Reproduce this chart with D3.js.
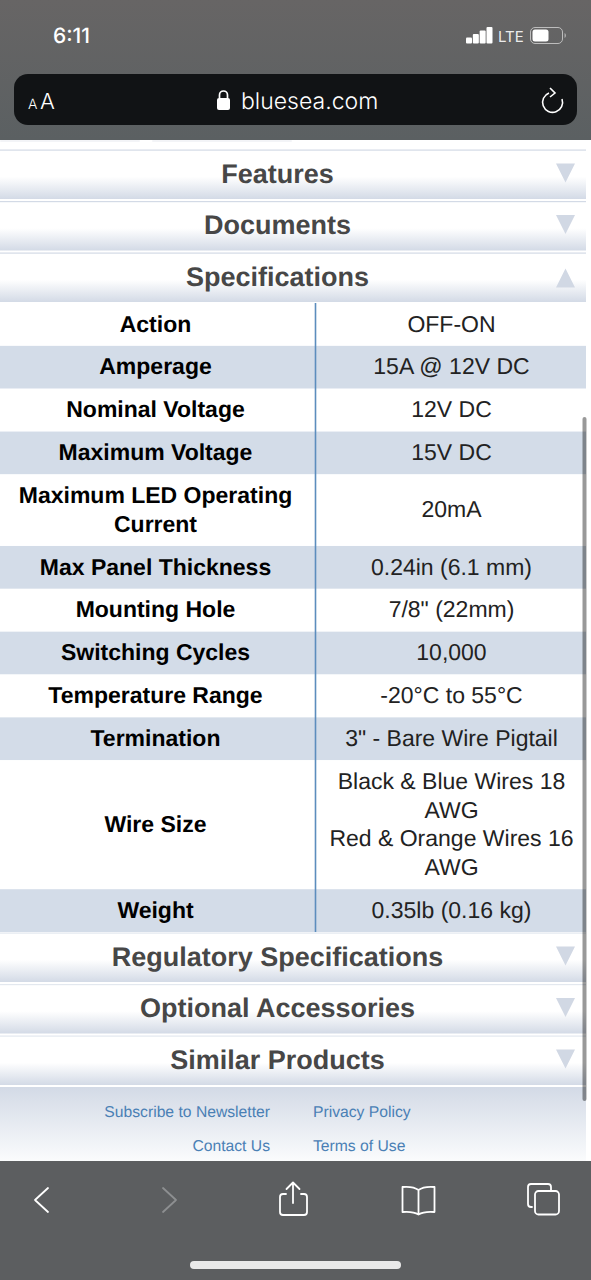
<!DOCTYPE html>
<html>
<head>
<meta charset="utf-8">
<script src="https://cdn.jsdelivr.net/npm/d3@7"></script>
<style>
  html, body { margin: 0; padding: 0; background: #fff; overflow: hidden; }
  svg { display: block; }
  text { font-family: "Liberation Sans", Arial, sans-serif; text-rendering: geometricPrecision; }
  .ui { font-family: Inter, "Noto Sans", sans-serif; fill: #fff; }
</style>
</head>
<body>
<svg id="page" width="591" height="1280"></svg>
<script>
// Table content
const specNames = ['Action', 'Amperage', 'Nominal Voltage', 'Maximum Voltage',
  ['Maximum LED Operating', 'Current'], 'Max Panel Thickness', 'Mounting Hole',
  'Switching Cycles', 'Temperature Range', 'Termination', 'Wire Size', 'Weight'];
const specValues = ['OFF-ON', '15A @ 12V DC', '12V DC', '15V DC', '20mA', '0.24in (6.1 mm)',
  '7/8" (22mm)', '10,000', '-20°C to 55°C', '3" - Bare Wire Pigtail',
  ['Black & Blue Wires 18', 'AWG', 'Red & Orange Wires 16', 'AWG'], '0.35lb (0.16 kg)'];
const topHeads = ['Features', 'Documents', 'Specifications'];
const bottomHeads = ['Regulatory Specifications', 'Optional Accessories', 'Similar Products'];
const footLeft = ['Subscribe to Newsletter', 'Contact Us'];
const footRight = ['Privacy Policy', 'Terms of Use'];

const svg = d3.select('#page');
const defs = svg.append('defs');

function gradient(id, stops) {
  const g = defs.append('linearGradient').attr('id', id)
    .attr('x1', 0).attr('y1', 0).attr('x2', 0).attr('y2', 1);
  stops.forEach(s => g.append('stop').attr('offset', s[0]).attr('stop-color', s[1]));
}
gradient('headFill', [[0, '#ffffff'], [0.55, '#ffffff'], [1, '#d3dae6']]);
gradient('footFill', [[0, '#d3dae6'], [1, '#fbfcfd']]);
gradient('topBar', [[0, '#676565'], [1, '#5b6062']]);

// Browser chrome on top
svg.append('rect').attr('width', 591).attr('height', 140).attr('fill', 'url(#topBar)');
svg.append('text').attr('class', 'ui').attr('x', 53).attr('y', 43)
  .attr('font-size', 21).attr('font-weight', 500).text('6:11');

const bars = [0, 1, 2, 3];
const barX = d3.scaleLinear().domain([0, 3]).range([466, 486.5]);
svg.selectAll('.sig').data(bars).join('rect').attr('class', 'sig')
  .attr('x', d => barX(d)).attr('y', d => 37.5 - d * 3.5)
  .attr('width', 6).attr('height', d => 6 + d * 3.5).attr('rx', 1).attr('fill', '#fff');
svg.append('text').attr('class', 'ui').attr('x', 498).attr('y', 42)
  .attr('font-size', 15).attr('fill-opacity', 0.9).text('LTE');
svg.append('rect').attr('x', 530.5).attr('y', 27.5).attr('width', 32).attr('height', 16).attr('rx', 4.5)
  .attr('fill', 'none').attr('stroke', '#bdbdbd').attr('stroke-width', 1);
svg.append('rect').attr('x', 532.5).attr('y', 29.5).attr('width', 16).attr('height', 12).attr('rx', 2.5).attr('fill', '#fff');
svg.append('path').attr('d', 'M564.5 33v5c1-.6 1.5-1.4 1.5-2.5s-.5-1.9-1.5-2.5z').attr('fill', '#aaa');

svg.append('rect').attr('x', 14).attr('y', 74).attr('width', 563).attr('height', 51).attr('rx', 14).attr('fill', '#111315');
svg.append('text').attr('class', 'ui').attr('x', 28).attr('y', 109).attr('font-size', 14).attr('font-weight', 300).text('A');
svg.append('text').attr('class', 'ui').attr('x', 40).attr('y', 109).attr('font-size', 22).attr('font-weight', 300).text('A');
svg.append('rect').attr('x', 217).attr('y', 98).attr('width', 13).attr('height', 12).attr('rx', 2).attr('fill', '#fff');
svg.append('path').attr('d', 'M219.5 98v-3a4 4 0 0 1 8 0v3').attr('fill', 'none').attr('stroke', '#fff').attr('stroke-width', 1.7);
svg.append('text').attr('class', 'ui').attr('x', 241).attr('y', 109).attr('font-size', 23).attr('font-weight', 300).text('bluesea.com');
svg.append('path').attr('d', 'M549 93a10 10 0 1 0 13 6M550 88l5 5-5 4')
  .attr('fill', 'none').attr('stroke', '#fff').attr('stroke-width', 1.6);

// Page background and the tab remains just under the top bar
svg.append('rect').attr('y', 140).attr('width', 591).attr('height', 1021).attr('fill', '#fff');
svg.selectAll('.tab').data([[0, 140], [152, 140]]).join('rect').attr('class', 'tab')
  .attr('x', d => d[0]).attr('y', 140).attr('width', d => d[1]).attr('height', 2).attr('rx', 1).attr('fill', '#f3f4f7');

// Accordion headings
function heads(names, top, open) {
  const y = d3.scalePoint().domain(names).range([top, top + 103]);
  const g = svg.selectAll(null).data(names).join('g').attr('transform', d => `translate(0,${y(d)})`);
  g.append('rect').attr('width', 586).attr('height', 49.5).attr('fill', 'url(#headFill)');
  g.append('rect').attr('width', 586).attr('height', 1.2).attr('fill', top < 500 ? '#d3dae6' : '#e3e8ef');
  g.append('text').attr('x', 277.5).attr('y', 33).attr('text-anchor', 'middle')
    .attr('font-size', 27).attr('font-weight', 700).attr('fill', '#474747').text(d => d);
  g.append('path').attr('fill', '#d1d8e4')
    .attr('d', d => d === open ? 'M565.500 16 L575 35 L556 35 Z' : 'M556 14 L575 14 L565.500 33 Z');
}
heads(topHeads, 149.5, 'Specifications');

// Spec table, row height follows the number of wrapped lines
const lineCount = d => {
  const a = specNames[d], b = specValues[d];
  return Math.max(Array.isArray(a) ? a.length : 1, Array.isArray(b) ? b.length : 1);
};
const rowIdx = d3.range(specNames.length);
const rowH = d3.scaleLinear().domain([1, 4]).range([42.85, 129]);
const tops = [303];
rowIdx.forEach(i => tops.push(tops[i] + rowH(lineCount(i))));

const row = svg.selectAll('.row').data(rowIdx).join('g').attr('class', 'row')
  .attr('transform', i => `translate(0,${tops[i]})`);
row.append('rect').attr('width', 586).attr('height', i => rowH(lineCount(i)))
  .attr('fill', i => i % 2 ? '#d3dce8' : '#ffffff');

function cell(sel, x, src, weight, color) {
  sel.each(function(i) {
    const lines = [].concat(src[i]);
    const mid = rowH(lineCount(i)) / 2;
    d3.select(this).selectAll(null).data(lines).join('text')
      .attr('x', x).attr('text-anchor', 'middle')
      .attr('y', (d, k) => mid + 7.2 + (k - (lines.length - 1) / 2) * 28.7)
      .attr('font-size', 23).attr('font-weight', weight).attr('fill', color).text(d => d);
  });
}
row.call(cell, 155.5, specNames, 700, '#000');
row.call(cell, 451.5, specValues, 400, '#222');

svg.append('line').attr('x1', 315.5).attr('x2', 315.5).attr('y1', 303).attr('y2', tops[tops.length - 1])
  .attr('stroke', '#5c8dbd').attr('stroke-width', 1.6);

heads(bottomHeads, 932.5, null);

// Footer links
svg.append('rect').attr('y', 1087).attr('width', 586).attr('height', 75).attr('fill', 'url(#footFill)');
const footY = d3.scalePoint().domain([0, 1]).range([1117, 1151]);
svg.selectAll('.fl').data(footLeft).join('text').attr('class', 'fl')
  .attr('x', 270).attr('y', (d, i) => footY(i)).attr('text-anchor', 'end')
  .attr('font-size', 15.7).attr('fill', '#4a80b5').text(d => d);
svg.selectAll('.fr').data(footRight).join('text').attr('class', 'fr')
  .attr('x', 313).attr('y', (d, i) => footY(i))
  .attr('font-size', 15.7).attr('fill', '#4a80b5').text(d => d);

// Scroll bar
svg.append('rect').attr('x', 582.5).attr('y', 417).attr('width', 4).attr('height', 684).attr('rx', 2)
  .attr('fill', '#000').attr('fill-opacity', 0.4);

// Bottom toolbar
svg.append('rect').attr('y', 1161).attr('width', 591).attr('height', 119).attr('fill', '#5c5e60');
const icon = (d, c) => svg.append('path').attr('d', d).attr('fill', 'none')
  .attr('stroke', c || '#fff').attr('stroke-width', 1.8).attr('stroke-linecap', 'round').attr('stroke-linejoin', 'round');
icon('M48 1188 L35 1200 L48 1212');
icon('M163 1188 L176 1200 L163 1212', '#8d8f91');
icon('M286 1194 h-3 a3 3 0 0 0 -3 3 v15 a3 3 0 0 0 3 3 h21 a3 3 0 0 0 3 -3 v-15 a3 3 0 0 0 -3 -3 h-3');
icon('M293 1203 V1183 M286.5 1189 L293 1182.5 L299.5 1189');
icon('M418.500 1190 c-4 -3 -10 -3.500 -16 -3 v25 c6 -.5 12 0 16 2.500 c4 -2.500 10 -3 16 -2.500 v-25 c-6 -.5 -12 0 -16 3 z M418.500 1190 v24');
icon('M532 1207 h-1 a3 3 0 0 1 -3 -3 v-17 a3 3 0 0 1 3 -3 h17 a3 3 0 0 1 3 3 v3');
svg.append('rect').attr('x', 535).attr('y', 1191).attr('width', 24).attr('height', 23.5).attr('rx', 3.5)
  .attr('fill', '#5c5e60').attr('stroke', '#fff').attr('stroke-width', 1.8);
svg.append('rect').attr('x', 190).attr('y', 1261).attr('width', 211).attr('height', 8).attr('rx', 4).attr('fill', '#e9e9e9');
</script>
</body>
</html>
